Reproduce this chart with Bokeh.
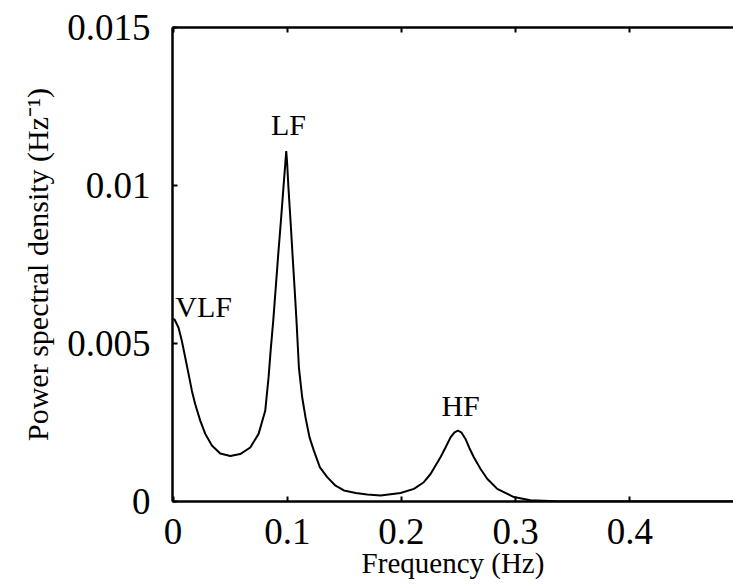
from bokeh.plotting import figure
from bokeh.models import LinearAxis, FixedTicker, Label, Range1d
from bokeh.embed import file_html
from bokeh.resources import INLINE

# Power spectral density curve
freq = [0.0, 0.0013, 0.0048, 0.0077, 0.0107, 0.0136, 0.0165, 0.0194, 0.0238,
        0.0282, 0.034, 0.0413, 0.0501, 0.0588, 0.0676, 0.0749, 0.0807, 0.0836,
        0.0855, 0.0877, 0.0899, 0.0921, 0.0944, 0.0966, 0.0983, 0.0991, 0.0999,
        0.1011, 0.1029, 0.1046, 0.1064, 0.1081, 0.1102, 0.1131, 0.116, 0.1195,
        0.1233, 0.1286, 0.135, 0.1423, 0.1496, 0.160, 0.170, 0.1817, 0.1992,
        0.2109, 0.2196, 0.2255, 0.2299, 0.2342, 0.2386, 0.243, 0.2465, 0.2494,
        0.2524, 0.2561, 0.2599, 0.2634, 0.2693, 0.2751, 0.2839, 0.2984, 0.313,
        0.335, 0.36, 0.40, 0.45, 0.4908]
psd = [0.00578, 0.00576, 0.0055, 0.00508, 0.00455, 0.00403, 0.0035, 0.00308,
       0.00256, 0.00214, 0.00177, 0.00152, 0.00144, 0.0015, 0.00171, 0.00214,
       0.00287, 0.00392, 0.0048, 0.00571, 0.00676, 0.00782, 0.00886, 0.00991,
       0.0107, 0.01109, 0.0107, 0.00989, 0.00886, 0.00782, 0.00676, 0.00571,
       0.00424, 0.00329, 0.00266, 0.00203, 0.00161, 0.00108, 0.00077, 0.0005,
       0.00035, 0.00027, 0.00022, 0.00019, 0.00027, 0.0004, 0.00061, 0.00087,
       0.00114, 0.0014, 0.00171, 0.00203, 0.00219, 0.00224, 0.00219, 0.00198,
       0.00166, 0.0014, 0.00103, 0.00072, 0.0004, 0.00014, 0.00004, 0.00001,
       0.0, 0.0, 0.0, 0.0]

x_ticks = [0, 0.1, 0.2, 0.3, 0.4]
x_tick_labels = ["0", "0.1", "0.2", "0.3", "0.4"]
y_ticks = [0, 0.005, 0.01, 0.015]
y_tick_labels = ["0", "0.005", "0.01", "0.015"]

band_names = ["VLF", "LF", "HF"]
band_x = [0.002, 0.101, 0.2518]
band_y = [0.00617, 0.01193, 0.00305]
band_align = ["left", "center", "center"]

FONT = "Liberation Serif"

p = figure(width=733, height=588, output_backend="svg", toolbar_location=None,
           x_range=Range1d(-0.0005, 0.4908), y_range=Range1d(0, 0.015),
           x_axis_location=None, y_axis_location=None,
           min_border_left=172, min_border_top=27, min_border_right=0,
           min_border_bottom=87)
p.outline_line_color = None
p.xgrid.visible = False
p.ygrid.visible = False
p.background_fill_color = "white"
p.border_fill_color = "white"

p.line(freq, psd, line_width=2, line_color="black")

def style(ax, ticks, labels):
    ax.ticker = FixedTicker(ticks=ticks)
    ax.major_label_overrides = {t: l for t, l in zip(ticks, labels)}
    ax.axis_line_width = 2.5
    ax.axis_line_color = "black"
    ax.major_tick_in = 5
    ax.major_tick_out = 0
    ax.major_tick_line_width = 2
    ax.minor_tick_line_color = None
    ax.major_label_text_font = FONT
    ax.major_label_text_font_size = "37px"
    ax.major_label_text_color = "black"
    ax.axis_label_text_font = FONT
    ax.axis_label_text_font_size = "29px"
    ax.axis_label_text_font_style = "normal"
    ax.axis_label_text_color = "black"

xb = LinearAxis(axis_label="Frequency (Hz)")
style(xb, x_ticks, x_tick_labels)
xb.major_label_standoff = 17
xb.axis_label_standoff = 0
p.add_layout(xb, "below")

yl = LinearAxis(axis_label="Power spectral density (Hz\u207b\u00b9)")
style(yl, y_ticks, y_tick_labels)
yl.axis_label_text_font_size = "30px"
yl.major_label_standoff = 22
yl.axis_label_standoff = 10
p.add_layout(yl, "left")

xt = LinearAxis()
style(xt, x_ticks, x_tick_labels)
xt.major_label_text_font_size = "0px"
xt.major_label_standoff = 0
p.add_layout(xt, "above")

for name, bx, by, al in zip(band_names, band_x, band_y, band_align):
    p.add_layout(Label(x=bx, y=by, text=name, text_align=al,
                       text_baseline="alphabetic", text_font=FONT,
                       text_font_size="30px", text_color="black"))

open("out.html", "w").write(file_html(p, INLINE))
